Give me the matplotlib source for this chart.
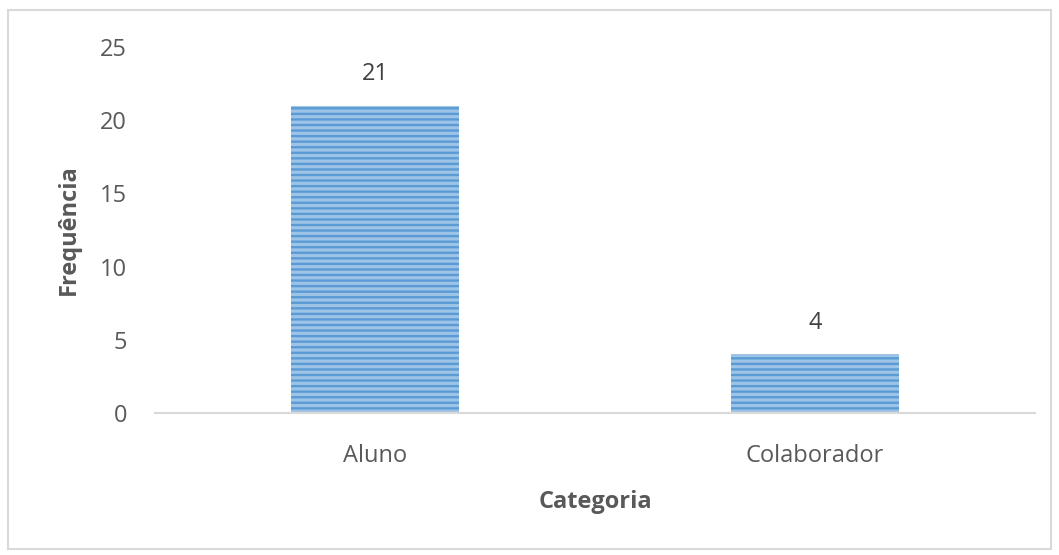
import matplotlib
matplotlib.use("Agg")
import matplotlib.pyplot as plt
from matplotlib.patches import Rectangle

categories = ["Aluno", "Colaborador"]
values = [21, 4]
yticks = [0, 5, 10, 15, 20, 25]

plt.rcParams['font.family'] = ['Open Sans', 'DejaVu Sans']
plt.rcParams['hatch.linewidth'] = 1.7
plt.rcParams['hatch.color'] = '#5B9BD5'

FS = 17

fig = plt.figure(figsize=(10.59, 5.55), dpi=100)
ax = fig.add_axes([155/1059, 1-413/555, 880/1059, (413-47)/555])

x = list(range(len(categories)))
bars = ax.bar(x, values, width=0.38, color='#9DC3E6', edgecolor='#5B9BD5',
              hatch='---', linewidth=0)
ax.set_xlim(-0.5, len(categories)-0.5)
ax.set_ylim(0, 25)
ax.set_yticks(yticks)
ax.set_yticklabels([str(t) for t in yticks])
ax.set_xticks(x)
ax.set_xticklabels(categories)
ax.tick_params(axis='both', length=0, colors='#595959', labelsize=FS)
ax.tick_params(axis='y', pad=20)
ax.tick_params(axis='x', pad=22)
for s in ['top', 'right', 'left']:
    ax.spines[s].set_visible(False)
ax.spines['bottom'].set_color('#D9D9D9')
ax.spines['bottom'].set_linewidth(1.5)

for xi, v in zip(x, values):
    ax.annotate(str(v), (xi, v), xytext=(0, 14), textcoords='offset points',
                ha='center', va='bottom', fontsize=FS, color='#404040')

ax.set_ylabel('Frequência', fontsize=FS, fontweight='bold', color='#595959', labelpad=14)
ax.set_xlabel('Categoria', fontsize=FS, fontweight='bold', color='#595959', labelpad=16)

fig.patches.append(Rectangle((8/1059, 1-549/555), 1043/1059, 539/555,
                             transform=fig.transFigure, fill=False,
                             edgecolor='#D9D9D9', linewidth=1.5))

fig.savefig('out.png', dpi=100)
